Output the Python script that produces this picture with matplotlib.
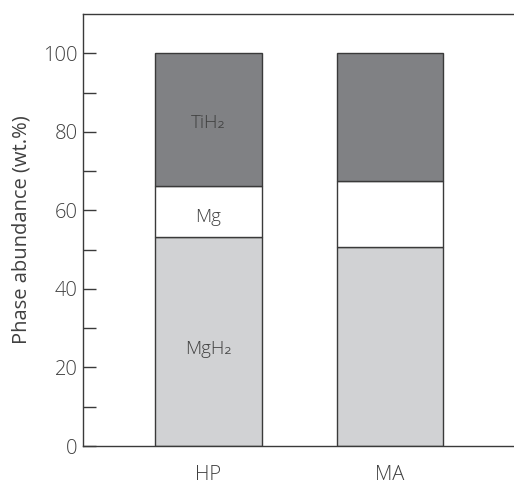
import matplotlib.pyplot as plt
import numpy as np

plt.rcParams['font.family'] = ['Open Sans', 'DejaVu Sans']
plt.rcParams['font.weight'] = 'light'

samples = ['HP', 'MA']
phases = ['MgH₂', 'Mg', 'TiH₂']
mgh2 = [53.3, 50.6]
mg = [12.95, 17.0]
tih2 = [33.75, 32.4]
colors = ['#d1d2d4', '#ffffff', '#808184']
labelled = [True, False]
# small vertical nudges for the in-bar labels
nudge = [-2.0, -1.5, -1.0]

fig = plt.figure(figsize=(5.14, 4.84), dpi=100)
ax = fig.add_axes([0.1615, 0.0785, 0.8385, 0.8926])

x = np.arange(len(samples))
bottom = np.zeros(len(samples))
for name, vals, c, dy in zip(phases, [mgh2, mg, tih2], colors, nudge):
    vals = np.array(vals)
    ax.bar(x, vals, width=0.587, bottom=bottom, color=c,
           edgecolor='#3a3a3a', linewidth=1.0)
    for i in range(len(samples)):
        if labelled[i]:
            ax.text(x[i], bottom[i] + vals[i] / 2 + dy, name, ha='center',
                    va='center', fontsize=13.5, color='#404040')
    bottom += vals

ax.set_xlim(-0.691, 1.683)
ax.set_ylim(0, 110)
ax.set_yticks(range(0, 101, 20))
ax.set_yticks(range(10, 100, 20), minor=True)
ax.set_xticks(x)
ax.set_xticklabels(samples)
ax.tick_params(axis='y', which='both', direction='in', length=9,
               width=1, color='#3a3a3a', labelsize=14.5, labelcolor='#404040', pad=4)
ax.tick_params(axis='x', length=0, labelsize=14.5, labelcolor='#404040', pad=14)
ax.set_ylabel('Phase abundance (wt.%)', fontsize=14.5, color='#404040', labelpad=8)

ax.spines['right'].set_visible(False)
for s in ['left', 'top', 'bottom']:
    ax.spines[s].set_color('#3a3a3a')
    ax.spines[s].set_linewidth(1.0)

fig.savefig('out.png', dpi=100)
